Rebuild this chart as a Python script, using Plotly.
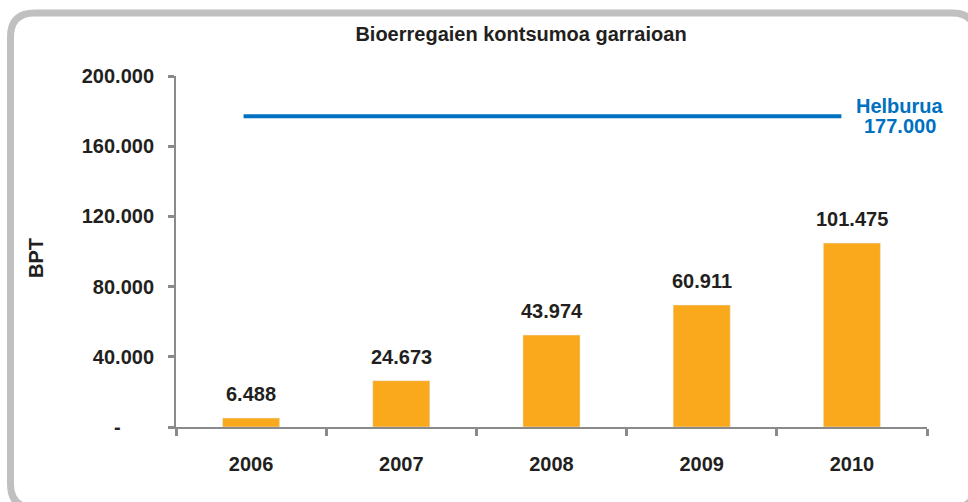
import plotly.graph_objects as go

# ---- data ----
years = ["2006", "2007", "2008", "2009", "2010"]
bar_values = [5100, 26400, 52400, 69500, 104800]          # bar heights as drawn
bar_labels = ["6.488", "24.673", "43.974", "60.911", "101.475"]  # printed labels
target_value = 177000
target_name = "Helburua"
target_label = "177.000"
y_tickvals = [0, 40000, 80000, 120000, 160000, 200000]
y_ticktext = ["-", "40.000", "80.000", "120.000", "160.000", "200.000"]
title_text = "Bioerregaien kontsumoa garraioan"
y_title = "BPT"

# ---- style ----
FONT = "Liberation Sans, Arial, sans-serif"
TXT = "#231f20"
ORANGE = "#F9A91B"
BLUE = "#0070C0"
AXIS = "#8a8a8a"
W, H = 968, 502
L, R, T, B = 176, 41, 76, 75

fig = go.Figure()
fig.add_trace(go.Bar(x=years, y=bar_values, marker_color=ORANGE, width=0.38,
                     hoverinfo="skip", showlegend=False))

# data labels above bars (category index used as x position)
for i, (v, lab) in enumerate(zip(bar_values, bar_labels)):
    fig.add_annotation(x=i, y=v, xref="x", yref="y", text="<b>%s</b>" % lab,
                       showarrow=False, yshift=24, yanchor="middle",
                       font=dict(family=FONT, size=20, color=TXT))

# target line
fig.add_shape(type="line", xref="x", yref="y", x0=-0.05, x1=3.93,
              y0=target_value, y1=target_value,
              line=dict(color=BLUE, width=4))
fig.add_annotation(x=4.32, y=target_value, text="<b>%s</b>" % target_name,
                   showarrow=False, yshift=10, yanchor="middle",
                   font=dict(family=FONT, size=20, color=BLUE))
fig.add_annotation(x=4.32, y=target_value, text="<b>%s</b>" % target_label,
                   showarrow=False, yshift=-10, yanchor="middle",
                   font=dict(family=FONT, size=20, color=BLUE))

# rounded border (pixel coordinates converted to paper); right/bottom run off the page
pw, ph = W - L - R, H - T - B
def px(x): return (x - L) / pw
def py(y): return (H - B - y) / ph
x0, x1, y0, y1, r = 10.5, 976, 13, 508, 24
path = (f"M {px(x0+r)},{py(y0)} L {px(x1-r)},{py(y0)} "
        f"Q {px(x1)},{py(y0)} {px(x1)},{py(y0+r)} "
        f"L {px(x1)},{py(y1-r)} Q {px(x1)},{py(y1)} {px(x1-r)},{py(y1)} "
        f"L {px(x0+r)},{py(y1)} Q {px(x0)},{py(y1)} {px(x0)},{py(y1-r)} "
        f"L {px(x0)},{py(y0+r)} Q {px(x0)},{py(y0)} {px(x0+r)},{py(y0)} Z")
fig.add_shape(type="path", xref="paper", yref="paper", path=path,
              line=dict(color="#c0c0c0", width=7), layer="below")

# y-axis title as rotated annotation
fig.add_annotation(xref="paper", yref="paper", x=px(36), y=py(258),
                   text="<b>%s</b>" % y_title, textangle=-90, showarrow=False,
                   xanchor="center", yanchor="middle",
                   font=dict(family=FONT, size=20, color=TXT))

# accounting-style dash for zero sits left of the right edge of other labels
def fmt_tick(t):
    return "<b>%s</b>" % (t + "&nbsp;" * 6 if t == "-" else t)

fig.update_layout(
    width=W, height=H,
    margin=dict(l=L, r=R, t=T, b=B, autoexpand=False),
    paper_bgcolor="white", plot_bgcolor="white",
    font=dict(family=FONT, color=TXT),
    title=dict(text="<b>%s</b>" % title_text, x=px(521), xanchor="center",
               xref="paper", y=1 - 34 / H, yanchor="middle",
               font=dict(family=FONT, size=20, color=TXT)),
    bargap=0.62,
)
fig.update_xaxes(
    type="category", range=[-0.5, 4.5],
    showline=True, linecolor=AXIS, linewidth=2,
    ticks="outside", tickson="boundaries", ticklen=7, tickwidth=3, tickcolor=AXIS,
    tickfont=dict(family=FONT, size=20, color=TXT),
    tickprefix="<b>", ticksuffix="</b>",
    ticklabelstandoff=18, showgrid=False, zeroline=False,
)
fig.update_yaxes(
    range=[0, 200000], tickvals=y_tickvals,
    ticktext=[fmt_tick(t) for t in y_ticktext],
    showline=True, linecolor=AXIS, linewidth=2,
    ticks="outside", ticklen=6, tickwidth=3, tickcolor=AXIS,
    tickfont=dict(family=FONT, size=20, color=TXT),
    ticklabelstandoff=10, showgrid=False, zeroline=False,
)

fig.write_html("out.html", config={"displayModeBar": False},
               post_script="document.body.style.margin='0';document.body.style.padding='0';")
